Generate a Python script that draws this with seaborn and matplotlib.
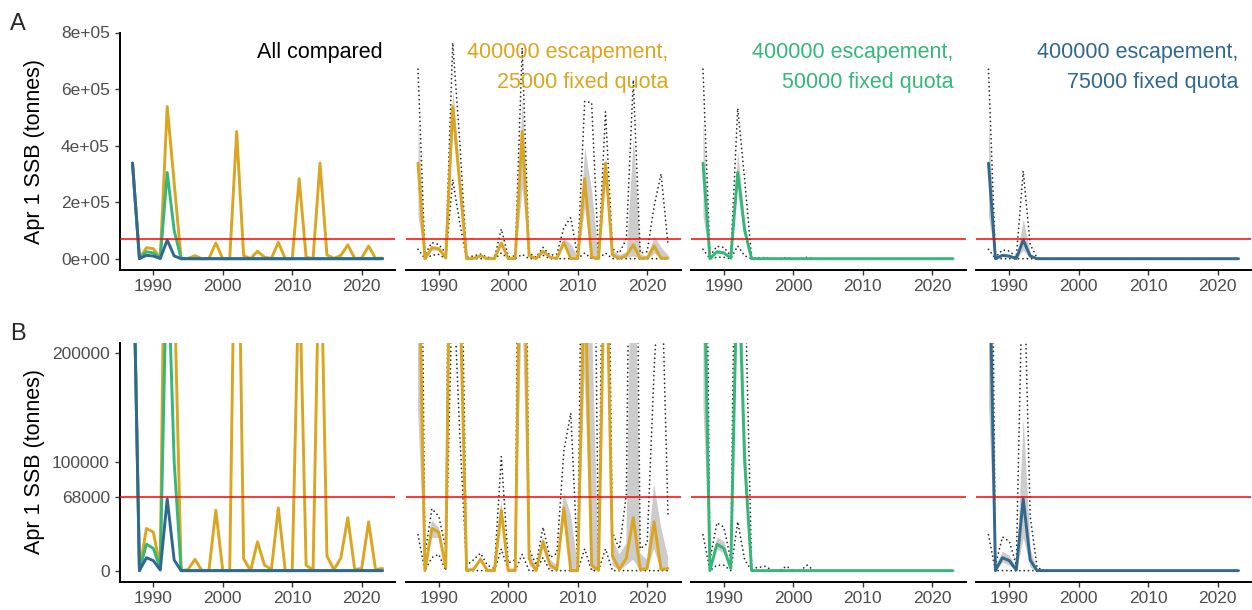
import matplotlib
matplotlib.use("Agg")
import matplotlib.pyplot as plt
import pandas as pd
import seaborn as sns

# ---------------------------------------------------------------------------
# Data: April 1 spawning stock biomass (tonnes), 1987-2023
# ---------------------------------------------------------------------------
years = list(range(1987, 2024))

# 400000 escapement, 25000 fixed quota
med_25 = [338000, 0, 38800, 35400, 3000, 538000, 268000, 0, 1000, 10400, 0, 0,
          55600, 0, 0, 450000, 11000, 0, 26500, 5200, 1000, 57700, 0, 0,
          283000, 5000, 500, 338000, 13500, 1000, 11500, 48800, 1000, 2000,
          44900, 1000, 2000]
lo_25 = [150000, 0, 30000, 30000, 0, 460000, 220000, 0, 0, 8000, 0, 0,
         48000, 0, 0, 250000, 5000, 0, 20000, 2000, 0, 45000, 0, 0,
         180000, 0, 0, 280000, 5000, 0, 5000, 10000, 0, 0,
         20000, 0, 0]
hi_25 = [490000, 5000, 46000, 40000, 5000, 600000, 310000, 2000, 3000, 13000, 2000, 1000,
         65000, 2000, 2000, 570000, 18000, 2000, 32000, 10000, 5000, 72000, 52000, 5000,
         395000, 240000, 8000, 370000, 30000, 15000, 25000, 430000, 16000, 10000,
         80000, 40000, 13000]
qlo_25 = [33000, 0, 12000, 15000, 0, 280000, 128000, 0, 0, 0, 0, 0,
          20000, 0, 0, 15000, 0, 0, 12000, 0, 0, 0, 0, 0,
          20000, 0, 0, 20000, 0, 0, 0, 0, 0, 0,
          0, 0, 0]
qhi_25 = [670000, 15000, 57000, 50000, 20000, 764000, 420000, 5000, 10000, 16000, 5000, 2000,
          105000, 7000, 10000, 745000, 20000, 5000, 40000, 12000, 16000, 110000, 145000, 6000,
          556000, 552000, 10000, 520000, 35000, 20000, 70000, 632000, 20000, 25000,
          185000, 300000, 50000]

# 400000 escapement, 50000 fixed quota
med_50 = [338000, 0, 24400, 20500, 2000, 305000, 100000, 0, 0, 0, 0, 0,
          0, 0, 0, 0, 0, 0, 0, 0, 0, 0, 0, 0,
          0, 0, 0, 0, 0, 0, 0, 0, 0, 0,
          0, 0, 0]
lo_50 = [150000, 0, 20000, 16000, 0, 270000, 80000, 0, 0, 0, 0, 0,
         0, 0, 0, 0, 0, 0, 0, 0, 0, 0, 0, 0,
         0, 0, 0, 0, 0, 0, 0, 0, 0, 0,
         0, 0, 0]
hi_50 = [490000, 5000, 31000, 27000, 4000, 380000, 130000, 0, 0, 0, 0, 0,
         0, 0, 0, 0, 0, 0, 0, 0, 0, 0, 0, 0,
         0, 0, 0, 0, 0, 0, 0, 0, 0, 0,
         0, 0, 0]
qlo_50 = [33000, 0, 5000, 5000, 0, 45000, 10000, 0, 0, 0, 0, 0,
          0, 0, 0, 0, 0, 0, 0, 0, 0, 0, 0, 0,
          0, 0, 0, 0, 0, 0, 0, 0, 0, 0,
          0, 0, 0]
qhi_50 = [670000, 10000, 44000, 40000, 10000, 532000, 280000, 2000, 3000, 4000, 0, 0,
          4000, 0, 0, 5000, 0, 0, 0, 0, 0, 0, 0, 0,
          0, 0, 0, 0, 0, 0, 0, 0, 0, 0,
          0, 0, 0]

# 400000 escapement, 75000 fixed quota
med_75 = [338000, 0, 11900, 9200, 600, 66000, 9800, 0, 0, 0, 0, 0,
          0, 0, 0, 0, 0, 0, 0, 0, 0, 0, 0, 0,
          0, 0, 0, 0, 0, 0, 0, 0, 0, 0,
          0, 0, 0]
lo_75 = [150000, 0, 8000, 5000, 0, 30000, 3000, 0, 0, 0, 0, 0,
         0, 0, 0, 0, 0, 0, 0, 0, 0, 0, 0, 0,
         0, 0, 0, 0, 0, 0, 0, 0, 0, 0,
         0, 0, 0]
hi_75 = [490000, 5000, 18000, 14000, 3000, 140000, 20000, 0, 0, 0, 0, 0,
         0, 0, 0, 0, 0, 0, 0, 0, 0, 0, 0, 0,
         0, 0, 0, 0, 0, 0, 0, 0, 0, 0,
         0, 0, 0]
qlo_75 = [33000, 0, 0, 0, 0, 0, 0, 0, 0, 0, 0, 0,
          0, 0, 0, 0, 0, 0, 0, 0, 0, 0, 0, 0,
          0, 0, 0, 0, 0, 0, 0, 0, 0, 0,
          0, 0, 0]
qhi_75 = [670000, 5000, 31000, 27000, 5000, 310000, 50000, 3000, 0, 0, 0, 0,
          0, 0, 0, 0, 0, 0, 0, 0, 0, 0, 0, 0,
          0, 0, 0, 0, 0, 0, 0, 0, 0, 0,
          0, 0, 0]

scenario_names = ["25000", "50000", "75000"]
scenario_colors = ["#DAA520", "#35B779", "#31688E"]
reference_point = 68000

frames = []
for name, m, lo, hi, qlo, qhi in zip(
        scenario_names,
        [med_25, med_50, med_75], [lo_25, lo_50, lo_75], [hi_25, hi_50, hi_75],
        [qlo_25, qlo_50, qlo_75], [qhi_25, qhi_50, qhi_75]):
    frames.append(pd.DataFrame({"year": years, "quota": name, "ssb": m,
                                "lo": lo, "hi": hi, "qlo": qlo, "qhi": qhi}))
df = pd.concat(frames, ignore_index=True)

# ---------------------------------------------------------------------------
# Figure
# ---------------------------------------------------------------------------
sns.set_style("ticks")
plt.rcParams["font.family"] = ["Liberation Sans", "DejaVu Sans"]

W, H = 1252, 610
fig = plt.figure(figsize=(W / 100, H / 100), dpi=100)


def rect(x0, ytop, w, h):
    return [x0 / W, 1 - (ytop + h) / H, w / W, h / H]


col_x = [120, 405.5, 690.5, 976]
panel_w = 275
rows = [
    dict(ytop=32.5, h=237.5, ylim=(-40000, 800000),
         ticks=[0, 200000, 400000, 600000, 800000],
         labels=["0e+00", "2e+05", "4e+05", "6e+05", "8e+05"], tag="A", tag_y=30),
    dict(ytop=342.5, h=239, ylim=(-10000, 210000),
         ticks=[0, 68000, 100000, 200000],
         labels=["0", "68000", "100000", "200000"], tag="B", tag_y=340),
]

line_w = 2.1
dot_style = (0, (0.01, 2.4))

for r, row in enumerate(rows):
    fig.text(10 / W, 1 - row["tag_y"] / H, row["tag"], fontsize=17,
             ha="left", va="baseline")
    for c in range(4):
        ax = fig.add_axes(rect(col_x[c], row["ytop"], panel_w, row["h"]))
        if c == 0:
            for name, col in zip(scenario_names, scenario_colors):
                sub = df[df["quota"] == name]
                sns.lineplot(data=sub, x="year", y="ssb", color=col,
                             linewidth=line_w, errorbar=None, ax=ax, zorder=3)
        else:
            name = scenario_names[c - 1]
            col = scenario_colors[c - 1]
            sub = df[df["quota"] == name]
            ax.fill_between(sub["year"], sub["lo"], sub["hi"],
                            color="#CCCCCC", linewidth=0, zorder=1)
            for q in ["qlo", "qhi"]:
                sns.lineplot(data=sub, x="year", y=q, color="#2B2B2B",
                             linewidth=1.3, linestyle=dot_style,
                             dash_capstyle="round",
                             errorbar=None, ax=ax, zorder=2)
            sns.lineplot(data=sub, x="year", y="ssb", color=col,
                         linewidth=line_w, errorbar=None, ax=ax, zorder=3)

        ax.axhline(reference_point, color="#FF0000", linewidth=1.1, zorder=4)

        ax.set_xlim(1985.2, 2024.8)
        ax.set_ylim(*row["ylim"])
        ax.set_xticks([1990, 2000, 2010, 2020])
        ax.set_yticks(row["ticks"])
        ax.set_yticklabels(row["labels"])
        ax.set_xlabel("")
        ax.set_ylabel("")
        ax.tick_params(axis="both", length=3.3, width=1.0, color="#333333",
                       labelcolor="#4D4D4D", labelsize=12.5)
        ax.tick_params(axis="x", pad=3.4)
        ax.tick_params(axis="y", pad=4.0)
        for s in ["top", "right"]:
            ax.spines[s].set_visible(False)
        ax.spines["bottom"].set_linewidth(1.4)
        ax.spines["left"].set_linewidth(1.4)
        ax.spines["bottom"].set_color("black")
        ax.spines["left"].set_color("black")
        ax.set_facecolor("none")

        if c == 0:
            ax.set_ylabel("Apr 1 SSB (tonnes)", fontsize=15.5, color="black",
                          va="center")
            ax.yaxis.set_label_coords((35 - col_x[0]) / panel_w, 0.5)
        else:
            ax.spines["left"].set_visible(False)
            ax.tick_params(axis="y", left=False, labelleft=False)

        if r == 0:
            if c == 0:
                ax.text(2023, 711000, "All compared", fontsize=15.5,
                        color="black", ha="right", va="baseline")
            else:
                col = scenario_colors[c - 1]
                ax.text(2023, 711000, "400000 escapement,", fontsize=15.5,
                        color=col, ha="right", va="baseline")
                ax.text(2023, 602000, f"{scenario_names[c - 1]} fixed quota",
                        fontsize=15.5, color=col, ha="right", va="baseline")

fig.savefig("out.png", dpi=100)
